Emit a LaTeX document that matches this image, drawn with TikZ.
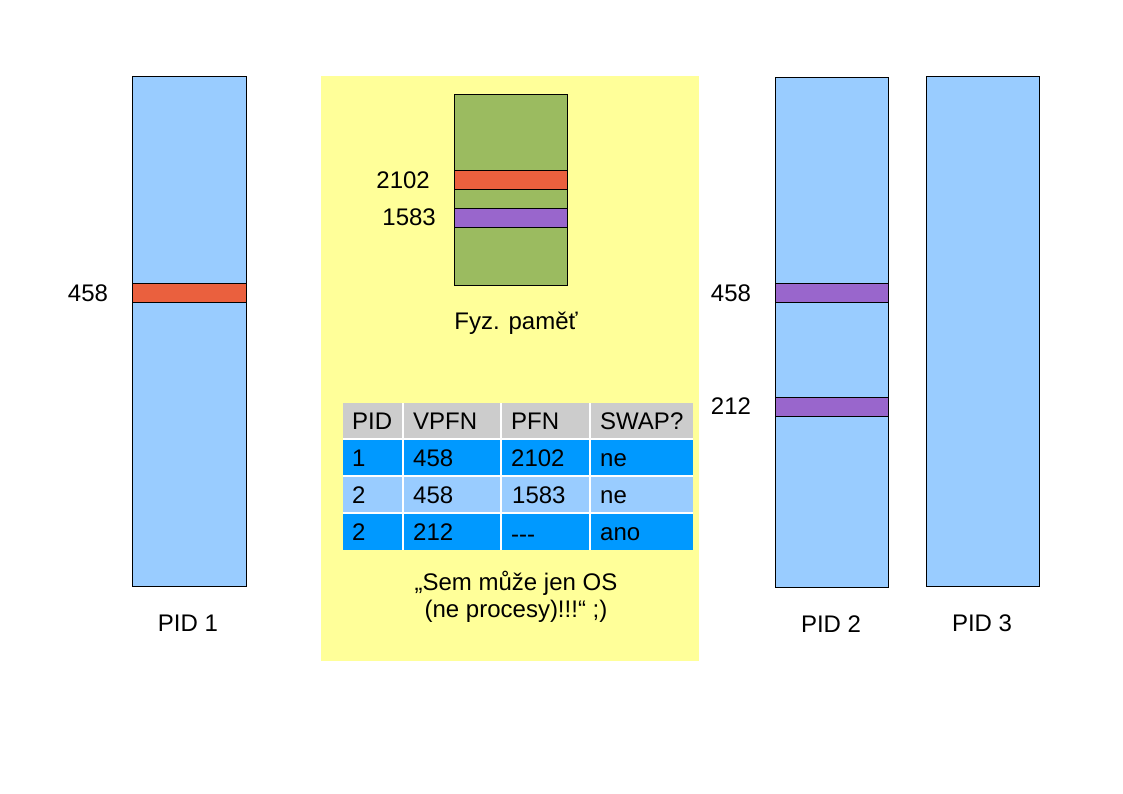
\documentclass[tikz,border=0pt]{standalone}
\usepackage{fontspec}
\setmainfont{Liberation Sans}
\definecolor{lblue}{HTML}{99CCFF}
\definecolor{dblue}{HTML}{0099FF}
\definecolor{bandred}{HTML}{EA603E}
\definecolor{bandpur}{HTML}{9966CC}
\definecolor{memgreen}{HTML}{9BBB60}
\definecolor{bgyellow}{HTML}{FFFF99}
\definecolor{hdrgray}{HTML}{CCCCCC}
\begin{document}
\begin{tikzpicture}[x=1pt,y=-1pt,
  txt/.style={font=\fontsize{24}{27}\selectfont,inner sep=0pt},
  bar/.style={draw=black,line width=0.8pt,fill=lblue},
  cell/.style={draw=white,line width=1.5pt},
  celltxt/.style={txt,anchor=base west,yshift=-8.6pt}]
\useasboundingbox (0,0) rectangle (1123,794);
% yellow area
\fill[bgyellow] (321,76) rectangle (699,661);
% PID 1
\draw[bar] (132,76) rectangle (246,586);
\draw[bar,fill=bandred] (132,283) rectangle (246,302);
\node[txt] (l458a) at (88,293) {458};
\node[txt] (pid1) at (188,623) {PID 1};
% physical memory
\draw[bar,fill=memgreen] (454,94) rectangle (567,285);
\draw[bar,fill=bandred] (454,170) rectangle (567,189);
\draw[bar,fill=bandpur] (454,208) rectangle (567,227);
\node[txt,anchor=east] (l2102) at (430,180) {2102};
\node[txt,anchor=east] (l1583) at (436,217) {1583};
\node[txt] (fyz) at (516,323) {Fyz. paměť};
% table
\fill[hdrgray] (343,403) rectangle (693,439);
\fill[dblue] (343,439) rectangle (693,476);
\fill[lblue] (343,476) rectangle (693,513);
\fill[dblue] (343,513) rectangle (693,550);
\foreach \yy in {439,476,513} \draw[cell] (343,\yy) -- (693,\yy);
\foreach \xx in {403,501,590} \draw[cell] (\xx,403) -- (\xx,550);
\node[celltxt] (h1) at (352,421) {PID};
\node[celltxt] (h2) at (413,421) {VPFN};
\node[celltxt] (h3) at (511,421) {PFN};
\node[celltxt] (h4) at (600,421) {SWAP?};
\node[celltxt] (a1) at (352,458) {1};
\node[celltxt] (a2) at (413,458) {458};
\node[celltxt] (a3) at (511,458) {2102};
\node[celltxt] (a4) at (600,458) {ne};
\node[celltxt] (b1) at (352,495) {2};
\node[celltxt] (b2) at (413,495) {458};
\node[celltxt] (b3) at (512,495) {1583};
\node[celltxt] (b4) at (600,495) {ne};
\node[celltxt] (c1) at (352,532) {2};
\node[celltxt] (c2) at (413,532) {212};
\node[celltxt] (c3) at (511,534) {{-}{-}{-}};
\node[celltxt] (c4) at (600,532) {ano};
\node[txt,align=center] (quote) at (516,597) {„Sem může jen OS\\(ne procesy)!!!“ ;)};
% PID 2
\draw[bar] (775,77) rectangle (888,587);
\draw[bar,fill=bandpur] (775,283) rectangle (888,302);
\draw[bar,fill=bandpur] (775,397) rectangle (888,416);
\node[txt] (l458b) at (731,293) {458};
\node[txt] (l212) at (731,406) {212};
\node[txt] (pid2) at (831,624) {PID 2};
% PID 3
\draw[bar] (926,76) rectangle (1039,586);
\node[txt] (pid3) at (982,623) {PID 3};
\end{tikzpicture}
\end{document}
